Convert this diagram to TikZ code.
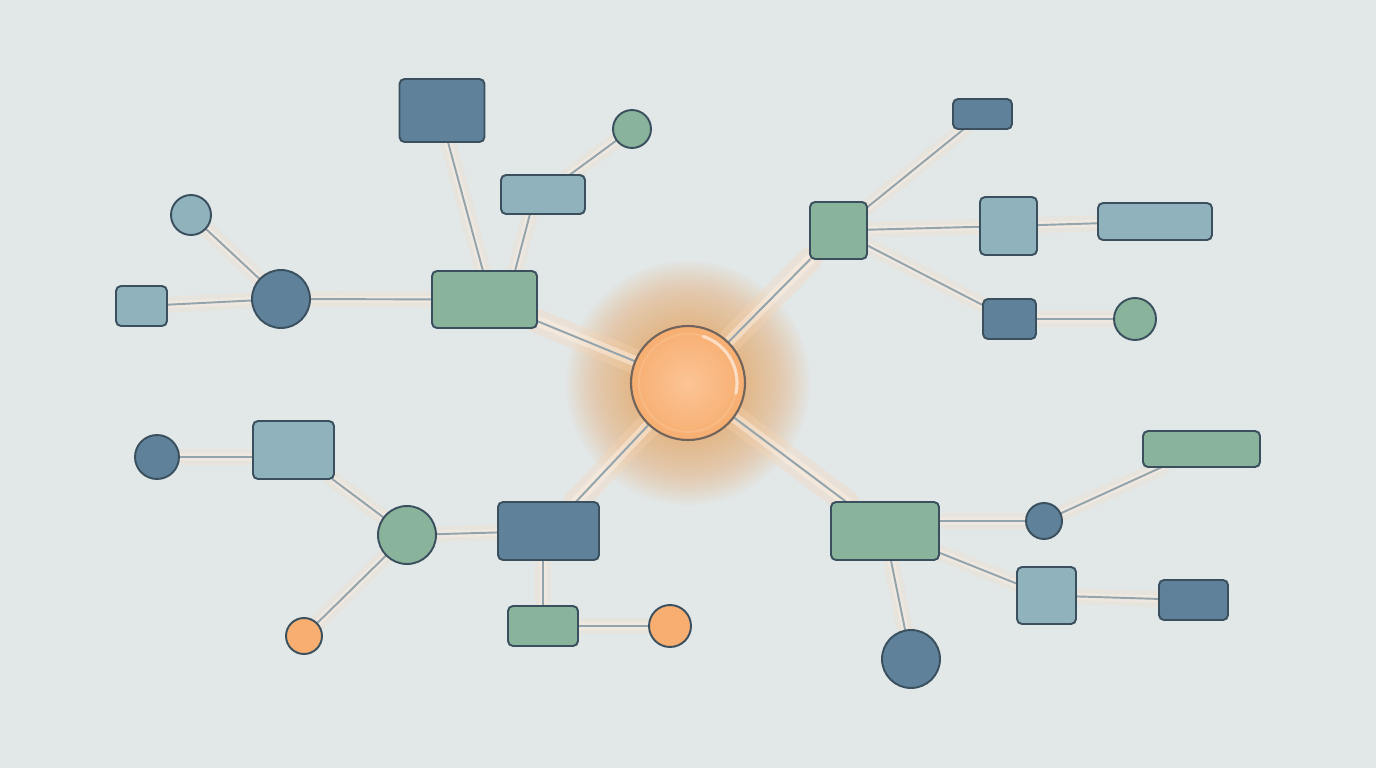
\documentclass[tikz,border=0pt]{standalone}
\usetikzlibrary{calc}
\pgfdeclarelayer{back}
\pgfdeclarelayer{edges}
\pgfsetlayers{back,edges,main}
\definecolor{bg}{RGB}{226,231,232}
\definecolor{dblue}{RGB}{95,130,154}
\definecolor{lblue}{RGB}{143,178,189}
\definecolor{sgreen}{RGB}{138,179,155}
\definecolor{orng}{RGB}{247,174,112}
\definecolor{strk}{RGB}{58,80,94}
\definecolor{edgec}{RGB}{148,164,172}
\definecolor{glowc}{RGB}{252,214,178}
\definecolor{cin}{RGB}{252,196,150}
\definecolor{cout}{RGB}{247,174,112}
\definecolor{cstrk}{RGB}{112,100,92}
\tikzset{
 box/.style 2 args={rectangle, rounded corners=0.1cm, draw=strk, line width=1.1pt, inner sep=0pt, outer sep=0pt, minimum width=#1*0.02cm, minimum height=#2*0.02cm},
 dot/.style={circle, draw=strk, line width=1.1pt, inner sep=0pt, outer sep=0pt, minimum size=#1*0.04cm},
 link/.style={draw=edgec, line width=1.1pt},
 glowA/.style={preaction={draw=glowc, draw opacity=0.3, line width=14pt, line cap=round}, preaction={draw=glowc!40!white, draw opacity=0.5, line width=6pt, line cap=round}},
 glowB/.style={preaction={draw=glowc, draw opacity=0.2, line width=9pt, line cap=round}, preaction={draw=glowc!30!white, draw opacity=0.35, line width=4pt, line cap=round}}
}
\begin{document}
\begin{tikzpicture}[x=0.02cm,y=-0.02cm]
\begin{pgfonlayer}{back}
\fill[bg] (0,0) rectangle (1376,768);
\foreach \r in {58,60,...,122} {
  \fill[orng, fill opacity=0.035] (688,383) circle[radius=\r*0.02cm];
}
\end{pgfonlayer}
\useasboundingbox (0,0) rectangle (1376,768);

% center
\node[circle, inner sep=0pt, outer sep=0pt, minimum size=114*0.02cm, shade, inner color=cin, outer color=cout, draw=cstrk, line width=1.2pt] (C) at (688,383) {};
\draw[white, draw opacity=0.55, line width=1.8pt, line cap=round] (C.center) ++(72:0.98cm) arc[start angle=72, end angle=-12, radius=0.98cm];
\draw[white, draw opacity=0.12, line width=1pt] (C.center) circle[radius=0.98cm];

% top-left cluster
\node[box={105}{57}, fill=sgreen] (G1) at (484.5,299.5) {};
\node[box={85}{63}, fill=dblue] (D1) at (442,110.5) {};
\node[box={84}{39}, fill=lblue] (L1) at (543,194.5) {};
\node[dot=19, fill=sgreen] (c1) at (632,129) {};
\node[dot=29, fill=dblue] (c2) at (281,299) {};
\node[dot=20, fill=lblue] (c3) at (191,215) {};
\node[box={51}{40}, fill=lblue] (L0) at (141.5,306) {};

% top-right cluster
\node[box={57}{57}, fill=sgreen] (G2) at (838.5,230.5) {};
\node[box={59}{30}, fill=dblue] (D2) at (982.5,114) {};
\node[box={57}{58}, fill=lblue] (L2) at (1008.5,226) {};
\node[box={114}{37}, fill=lblue] (L3) at (1155,221.5) {};
\node[box={53}{40}, fill=dblue] (D3) at (1009.5,319) {};
\node[dot=21, fill=sgreen] (c4) at (1135,319) {};

% bottom-left cluster
\node[box={101}{58}, fill=dblue] (D4) at (548.5,531) {};
\node[dot=29, fill=sgreen] (c5) at (407,535) {};
\node[box={81}{58}, fill=lblue] (L4) at (293.5,450) {};
\node[dot=22, fill=dblue] (c6) at (157,457) {};
\node[dot=18, fill=orng] (c7) at (304,636) {};
\node[box={70}{40}, fill=sgreen] (G5) at (543,626) {};
\node[dot=21, fill=orng] (c8) at (670,626) {};

% bottom-right cluster
\node[box={108}{58}, fill=sgreen] (G3) at (885,531) {};
\node[dot=18, fill=dblue] (c9) at (1044,521) {};
\node[box={117}{36}, fill=sgreen] (G4) at (1201.5,449) {};
\node[box={59}{57}, fill=lblue] (L5) at (1046.5,595.5) {};
\node[box={69}{40}, fill=dblue] (D5) at (1193.5,600) {};
\node[dot=29, fill=dblue] (c10) at (911,659) {};

\begin{pgfonlayer}{edges}
% center links
\draw[link, glowA] (C) -- (G1);
\draw[link, glowA] (C) -- (G2);
\draw[link, glowA] (C) -- (D4);
\draw[link, glowA] (C) -- (G3);
% top-left
\draw[link, glowB] ([xshift=-0.03cm]G1.north) -- ([xshift=0.12cm]D1.south);
\draw[link, glowB] ([xshift=0.61cm]G1.north) -- ([xshift=-0.26cm]L1.south);
\draw[link, glowB] (L1) -- (c1);
\draw[link, glowB] (G1) -- (c2);
\draw[link, glowB] (c2) -- (c3);
\draw[link, glowB] (c2) -- (L0);
% top-right
\draw[link, glowB] (G2) -- (D2);
\draw[link, glowB] (G2) -- (L2);
\draw[link, glowB] (L2) -- (L3);
\draw[link, glowB] (G2) -- (D3);
\draw[link, glowB] (D3) -- (c4);
% bottom-left
\draw[link, glowB] (D4) -- (c5);
\draw[link, glowB] (c5) -- (L4);
\draw[link, glowB] (c6) -- (c6 -| L4.west);
\draw[link, glowB] (c5) -- (c7);
\draw[link, glowB] (G5.north) -- (G5.north |- D4.south);
\draw[link, glowB] (G5) -- (c8);
% bottom-right
\draw[link, glowB] (c9) -- (c9 -| G3.east);
\draw[link, glowB] (c9) -- (G4);
\draw[link, glowB] (G3) -- (L5);
\draw[link, glowB] (L5) -- (D5);
\draw[link, glowB] (G3) -- (c10);
\end{pgfonlayer}
\end{tikzpicture}
\end{document}
